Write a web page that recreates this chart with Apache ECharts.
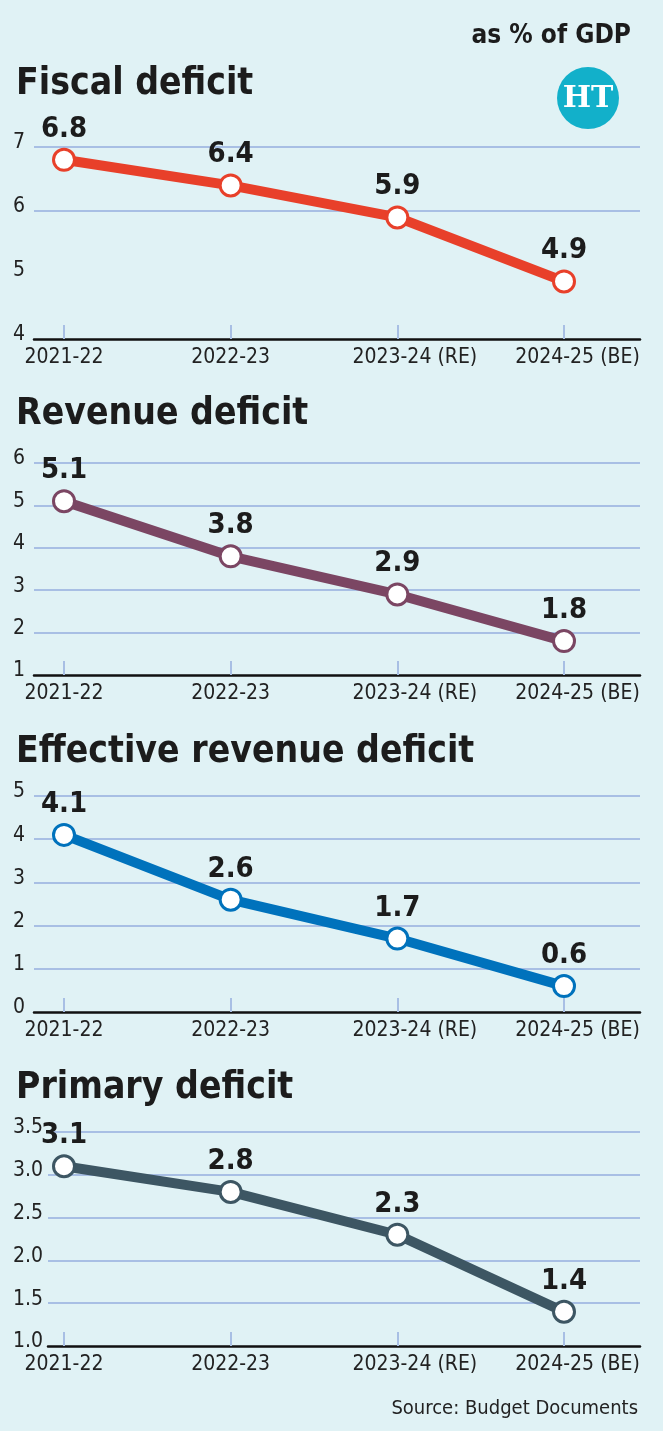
<!DOCTYPE html>
<html>
<head>
<meta charset="utf-8">
<script src="https://cdn.jsdelivr.net/npm/echarts@6/dist/echarts.min.js"></script>
<style>
  html, body { margin: 0; padding: 0; background: #e0f2f5; }
  #chart { width: 663px; height: 1431px; }
</style>
</head>
<body>
<div id="chart"></div>
<script>
const years = ['2021-22', '2022-23', '2023-24 (RE)', '2024-25 (BE)'];
const fiscal = [6.8, 6.4, 5.9, 4.9];
const revenue = [5.1, 3.8, 2.9, 1.8];
const effective = [4.1, 2.6, 1.7, 0.6];
const primary = [3.1, 2.8, 2.3, 1.4];

const titles = ['Fiscal deficit', 'Revenue deficit', 'Effective revenue deficit', 'Primary deficit'];
const colors = ['#e8402a', '#7b4663', '#0072bc', '#3d5663'];

const FONT = "'DejaVu Sans Condensed', 'Liberation Sans', sans-serif";
const GRIDC = '#a8bfe4';
const NONE = 'rgba(0,0,0,0)';

// layout of each panel: grid box, y range
const panels = [
  {data: fiscal, top: 147, height: 192, left: 34, min: 4, max: 7, step: 1, titleTop: 61,
   lines: [NONE, NONE, GRIDC, GRIDC]},
  {data: revenue, top: 463, height: 212, left: 34, min: 1, max: 6, step: 1, titleTop: 391,
   lines: [NONE, GRIDC, GRIDC, GRIDC, GRIDC, GRIDC]},
  {data: effective, top: 796, height: 216, left: 34, min: 0, max: 5, step: 1, titleTop: 729,
   lines: [NONE, GRIDC, GRIDC, GRIDC, GRIDC, GRIDC]},
  {data: primary, top: 1132, height: 214, left: 48, min: 1, max: 3.5, step: 0.5, titleTop: 1065,
   lines: [NONE, GRIDC, GRIDC, GRIDC, GRIDC, GRIDC]}
];

const unit = 500 / 3; // px per year step
let grid = [], xAxis = [], yAxis = [], series = [], title = [];

panels.forEach((p, i) => {
  grid.push({left: p.left, right: 23, top: p.top, height: p.height});
  title.push({
    text: titles[i], left: 11, top: p.titleTop,
    textStyle: {fontFamily: FONT, fontSize: 37, fontWeight: 'bold', color: '#1c1c1c'}
  });
  xAxis.push({
    type: 'value', gridIndex: i,
    min: (p.left - 64) / unit,
    max: 3 + 76 / unit,
    splitLine: {show: false},
    axisLine: {show: true, lineStyle: {color: '#111', width: 2.5}},
    axisTick: {show: true, inside: true, length: 14, customValues: [0, 1, 2, 3],
      lineStyle: {color: GRIDC, width: 2}},
    axisLabel: {
      customValues: [0, 1, 2, 3], margin: 8,
      fontFamily: FONT, fontSize: 21, color: '#222',
      formatter: v => {
        const s = years[Math.round(v)];
        if (v === 2) return '{a|' + s + '}';
        if (v === 3) return '{b|' + s + '}';
        return s;
      },
      rich: {
        a: {fontFamily: FONT, fontSize: 21, color: '#222', padding: [0, 0, 0, 35]},
        b: {fontFamily: FONT, fontSize: 21, color: '#222', padding: [0, 0, 0, 27]}
      }
    }
  });
  yAxis.push({
    type: 'value', gridIndex: i, min: p.min, max: p.max, interval: p.step,
    axisLine: {show: false}, axisTick: {show: false},
    splitLine: {show: true, lineStyle: {color: p.lines, width: 2}},
    axisLabel: {
      align: 'left', verticalAlign: 'bottom', lineHeight: 8, margin: p.left - 13,
      fontFamily: FONT, fontSize: 21, color: '#222',
      formatter: v => p.step < 1 ? v.toFixed(1) : String(v)
    }
  });
  series.push({
    type: 'line', xAxisIndex: i, yAxisIndex: i, z: 5,
    data: p.data.map((v, k) => [k, v]),
    lineStyle: {color: colors[i], width: 10},
    symbol: 'circle', symbolSize: 21,
    itemStyle: {color: '#fff', borderColor: colors[i], borderWidth: 3},
    label: {
      show: true, position: 'top', distance: 4,
      fontFamily: FONT, fontSize: 29, fontWeight: 'bold', color: '#1c1c1c',
      formatter: q => q.value[1].toFixed(1)
    }
  });
});

title.push({
  text: 'as % of GDP', right: 27, top: 18,
  textStyle: {fontFamily: FONT, fontSize: 26, fontWeight: 'bold', color: '#1c1c1c'}
});
title.push({
  text: 'Source: Budget Documents', right: 20, top: 1394,
  textStyle: {fontFamily: FONT, fontSize: 20, fontWeight: 'normal', color: '#222'}
});

let option = {
  backgroundColor: '#e0f2f5',
  animation: false,
  title: title,
  grid: grid,
  xAxis: xAxis,
  yAxis: yAxis,
  series: series,
  graphic: [
    {type: 'circle', shape: {cx: 588, cy: 98, r: 31}, style: {fill: '#12b0ca'}},
    {type: 'text', x: 588, y: 99, style: {text: 'HT', align: 'center', verticalAlign: 'middle',
      fill: '#fff', font: "bold 30px 'DejaVu Serif', serif"}}
  ]
};

let myChart = echarts.init(document.getElementById('chart'));
myChart.setOption(option);
</script>
</body>
</html>
